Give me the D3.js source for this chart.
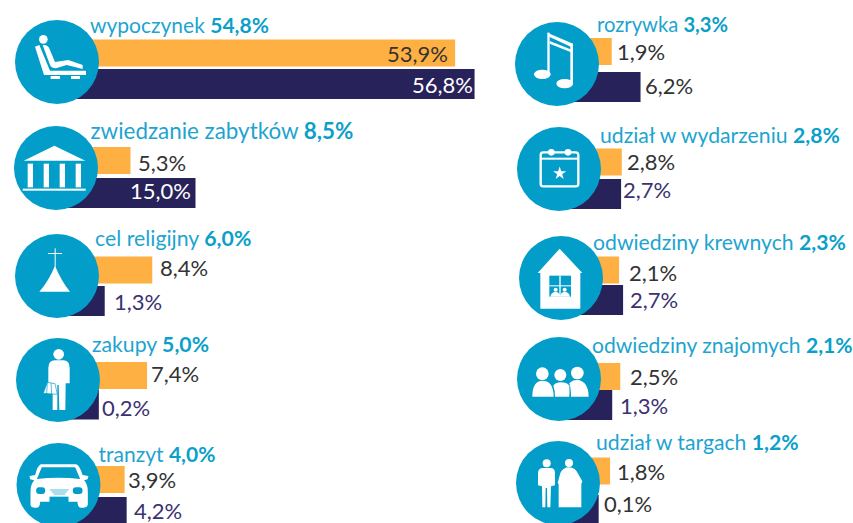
<!DOCTYPE html>
<html>
<head>
<meta charset="utf-8">
<script src="https://cdn.jsdelivr.net/npm/d3@7"></script>
<style>
  html, body { margin: 0; background: #fff; }
  svg { display: block; }
  text { font-family: Lato, "Open Sans", sans-serif; }
</style>
</head>
<body>
<script>
// values
const categories = ["wypoczynek", "zwiedzanie zabytków", "cel religijny", "zakupy", "tranzyt",
  "rozrywka", "udział w wydarzeniu", "odwiedziny krewnych", "odwiedziny znajomych", "udział w targach"]
const totals = [54.8, 8.5, 6.0, 5.0, 4.0, 3.3, 2.8, 2.3, 2.1, 1.2]
const seriesA = [53.9, 5.3, 8.4, 7.4, 3.9, 1.9, 2.8, 2.1, 2.5, 1.8]
const seriesB = [56.8, 15.0, 1.3, 0.2, 4.2, 6.2, 2.7, 2.7, 1.3, 0.1]

const width = 853
const height = 523
const blue = "#029ec9"
const titleBlue = "#1da4cf"
const orange = "#ffb042"
const navy = "#28225a"

// hand placed rows, the original is not on a grid
// c: circle centre, x0: zero of the bars, a/b: bar tops, t: title [x, baseline, size], va/vb: value labels [x, baseline]
const layout = [
  {c: [57, 62], x0: 94, a: 39.5, b: 69, t: [90, 32.5, 21], va: [387, 62], vb: [412, 93], bCol: "#fff"},
  {c: [56, 168], x0: 95, a: 147, b: 178, t: [90.5, 138.5, 22.4], va: [138, 171], vb: [130, 199], bCol: "#fff"},
  {c: [57, 276], x0: 96, a: 256.5, b: 286, t: [95, 246, 21.3], va: [160, 276], vb: [114, 310], bCol: "#3a3270"},
  {c: [58, 380], x0: 97.5, a: 362, b: 389.5, t: [92, 351.5, 21.2], va: [151, 382], vb: [102, 416], bCol: "#3a3270"},
  {c: [58.5, 485], x0: 98.5, a: 466, b: 497, t: [98.5, 462, 21], va: [128, 488], vb: [134, 519], bCol: "#3a3270"},
  {c: [557, 64], x0: 599, a: 38, b: 72, t: [597, 32, 20.2], va: [617, 60], vb: [645, 94], bCol: "#333"},
  {c: [559, 169], x0: 603, a: 148.5, b: 179, t: [600, 143, 21.2], va: [627, 170], vb: [623, 198], bCol: "#3a3270"},
  {c: [561, 278], x0: 605, a: 256.5, b: 285, t: [593, 250, 21.2], va: [629, 281], vb: [630, 308], bCol: "#3a3270"},
  {c: [559, 379], x0: 603.5, a: 363, b: 390, t: [592, 353, 21.1], va: [630, 385], vb: [620, 414], bCol: "#3a3270"},
  {c: [558, 483], x0: 598, a: 457.5, b: 495, t: [596, 450, 21.2], va: [617, 480], vb: [604, 512], bCol: "#333"}
]

const fmt = v => v.toFixed(1).replace(".", ",") + "%"

const x = d3.scaleLinear([0, 60], [0, 402])

const svg = d3.select("body").append("svg")
  .attr("width", width)
  .attr("height", height)

const rows = svg.selectAll("g.row")
  .data(categories.map((name, i) => ({name, i, total: totals[i], a: seriesA[i], b: seriesB[i], l: layout[i]})))
  .join("g")
  .attr("class", "row")

// bars start under the circle
rows.append("rect")
  .attr("x", d => d.l.c[0])
  .attr("y", d => d.l.a)
  .attr("width", d => d.l.x0 + x(d.a) - d.l.c[0])
  .attr("height", 27)
  .attr("fill", orange)

rows.append("rect")
  .attr("x", d => d.l.c[0])
  .attr("y", d => d.l.b)
  .attr("width", d => d.l.x0 + x(d.b) - d.l.c[0])
  .attr("height", 30)
  .attr("fill", navy)

rows.append("circle")
  .attr("cx", d => d.l.c[0])
  .attr("cy", d => d.l.c[1])
  .attr("r", 42)
  .attr("fill", blue)

// titles
const title = rows.append("text")
  .attr("x", d => d.l.t[0])
  .attr("y", d => d.l.t[1])
  .attr("font-size", d => d.l.t[2])
  .attr("fill", titleBlue)
title.append("tspan").text(d => d.name + " ")
title.append("tspan").attr("font-weight", 700).attr("fill", "#0b9fca").text(d => fmt(d.total))

// value labels
rows.append("text")
  .attr("x", d => d.l.va[0])
  .attr("y", d => d.l.va[1])
  .attr("font-size", 22)
  .attr("fill", "#333")
  .text(d => fmt(d.a))

rows.append("text")
  .attr("x", d => d.l.vb[0])
  .attr("y", d => d.l.vb[1])
  .attr("font-size", 22)
  .attr("fill", d => d.l.bCol)
  .text(d => fmt(d.b))

// icons, drawn in 3x coordinates
const icons = [
  // lounger
  {o: [171, 186], draw: g => {
    g.append("circle").attr("cx", 130).attr("cy", 118).attr("r", 13)
    g.append("path").attr("d", "M105,140 L118,135 L150,212 L258,212 L258,225 L132,225 Z")
    g.append("path").attr("d", "M128,135 Q145,133 150,150 L165,186 L205,180 L248,195 L248,207 L200,195 L168,205 Q155,205 150,195 Z")
    g.append("rect").attr("x", 152).attr("y", 228).attr("width", 28).attr("height", 9)
    g.append("rect").attr("x", 213).attr("y", 228).attr("width", 27).attr("height", 9)
  }},
  // temple
  {o: [169, 505], draw: g => {
    g.append("path").attr("d", "M72,483 L164,438 L257,483 Z")
    d3.range(4).forEach(i => g.append("rect").attr("x", 84 + i * 48).attr("y", 492).attr("width", 16).attr("height", 71))
    g.append("rect").attr("x", 69).attr("y", 567).attr("width", 189).attr("height", 6)
  }},
  // church with a cross
  {o: [171, 183], draw: g => {
    g.append("rect").attr("x", 164).attr("y", 100).attr("width", 3).attr("height", 55)
    g.append("rect").attr("x", 144).attr("y", 114).attr("width", 42).attr("height", 3)
    g.append("path").attr("d", "M165,152 Q185,200 210,230 L118,230 Q145,200 165,152 Z")
  }},
  // shopper
  {o: [174, 495], draw: g => {
    g.append("circle").attr("cx", 176).attr("cy", 418).attr("r", 16)
    g.append("path").attr("d", "M145,458 Q145,437 165,436 L190,436 Q209,437 209,458 L209,505 L197,505 L196,585 L178,585 L176,510 L172,510 L172,585 L158,585 L158,505 L145,505 Z")
    g.append("path").attr("stroke", blue).attr("stroke-width", 2).attr("d", "M130,535 L142,502 L165,506 L172,538 L130,535 Z M142,502 L140,536 M153,504 L155,537")
  }},
  // car
  {o: [175, 810], draw: g => {
    g.append("path").attr("d", "M122,748 L228,748 Q238,750 247,780 L265,783 L262,793 L252,796 Q263,808 263,830 L263,868 Q262,878 250,878 L242,878 Q232,876 232,860 L120,860 Q120,876 110,878 L102,878 Q91,878 91,868 L91,830 Q91,808 102,796 L90,793 L88,783 L105,780 Q112,752 122,748 Z")
    g.append("path").attr("fill", blue).attr("d", "M125,757 L225,757 L240,792 Q175,784 110,792 Z")
    g.append("rect").attr("fill", blue).attr("x", 108).attr("y", 817).attr("width", 27).attr("height", 20).attr("rx", 9)
    g.append("rect").attr("fill", blue).attr("x", 218).attr("y", 817).attr("width", 29).attr("height", 20).attr("rx", 9)
    g.append("rect").attr("fill", blue).attr("x", 148).attr("y", 845).attr("width", 57).attr("height", 17)
    g.append("path").attr("d", "M150,825 H205 M155,831 H200 M160,837 H195").attr("stroke", blue).attr("stroke-width", 2)
  }},
  // notes
  {o: [172, 191], draw: g => {
    g.append("rect").attr("x", 143).attr("y", 97).attr("width", 7).attr("height", 125)
    g.append("rect").attr("x", 212).attr("y", 130).attr("width", 8).attr("height", 122)
    g.append("path").attr("d", "M143,97 L220,130 L220,142 L150,110 Z")
    g.append("path").attr("d", "M150,122 L220,150 L220,158 L150,130 Z")
    g.append("ellipse").attr("cx", 128).attr("cy", 222).attr("rx", 25).attr("ry", 14)
    g.append("ellipse").attr("cx", 195).attr("cy", 250).attr("rx", 25).attr("ry", 14)
  }},
  // calendar
  {o: [178, 508], draw: g => {
    g.append("rect").attr("x", 123).attr("y", 458).attr("width", 113).attr("height", 102).attr("rx", 8)
      .attr("fill", "none").attr("stroke", "#fff").attr("stroke-width", 7)
    g.append("rect").attr("x", 123).attr("y", 474).attr("width", 113).attr("height", 6)
    g.append("circle").attr("cx", 155).attr("cy", 458).attr("r", 10)
    g.append("circle").attr("cx", 205).attr("cy", 458).attr("r", 10)
    g.append("path").attr("transform", "translate(180,521)").attr("d", d3.symbol(d3.symbolStar, 480))
  }},
  // house
  {o: [182, 190], draw: g => {
    g.append("path").attr("d", "M178,102 L246,175 L240,175 L240,282 L120,282 L120,175 L112,175 Z")
    g.append("rect").attr("fill", blue).attr("x", 147).attr("y", 183).attr("width", 65).attr("height", 63)
    g.append("rect").attr("x", 177).attr("y", 183).attr("width", 4).attr("height", 63)
    g.append("rect").attr("x", 147).attr("y", 212).attr("width", 65).attr("height", 3)
    g.append("circle").attr("cx", 166).attr("cy", 225).attr("r", 6)
    g.append("circle").attr("cx", 193).attr("cy", 225).attr("r", 6)
    g.append("path").attr("d", "M150,246 Q152,232 166,232 Q178,232 180,246 Z M179,246 Q181,232 193,232 Q207,232 209,246 Z")
  }},
  // three people
  {o: [177, 492], draw: g => {
    g.append("circle").attr("cx", 127).attr("cy", 476).attr("r", 19)
    g.append("circle").attr("cx", 181).attr("cy", 480).attr("r", 18)
    g.append("circle").attr("cx", 232).attr("cy", 474).attr("r", 19)
    g.append("path").attr("d", "M97,545 Q97,497 128,497 Q160,497 161,545 Z")
    g.append("path").attr("d", "M165,545 Q165,525 160,512 Q168,502 183,502 Q200,502 208,512 Q209,530 208,545 Z")
    g.append("path").attr("d", "M213,545 Q213,520 208,505 Q218,494 234,495 Q265,500 266,545 Z")
  }},
  // two people at a stand
  {o: [173, 805], draw: g => {
    g.append("circle").attr("cx", 139).attr("cy", 746).attr("r", 12)
    g.append("path").attr("d", "M113,775 Q114,760 128,760 L150,760 Q164,760 164,775 L164,812 L152,815 L150,878 L141,878 L140,820 L136,820 L135,878 L126,878 L125,815 L113,812 Z")
    g.append("circle").attr("cx", 206).attr("cy", 745).attr("r", 12)
    g.append("path").attr("d", "M172,805 L180,775 Q188,758 206,758 Q225,758 235,780 L246,800 L243,808 L243,878 L175,878 L175,808 Z")
  }}
]

rows.append("g")
  .attr("transform", d => `translate(${d.l.c[0]},${d.l.c[1]}) scale(${1 / 3}) translate(${-icons[d.i].o[0]},${-icons[d.i].o[1]})`)
  .attr("fill", "#fff")
  .each(function(d) { icons[d.i].draw(d3.select(this)) })
</script>
</body>
</html>
